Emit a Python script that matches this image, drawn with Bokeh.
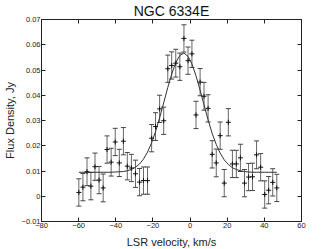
from bokeh.plotting import figure
from bokeh.models import (ColumnDataSource, Whisker, TeeHead, LinearAxis, FixedTicker,
                          Range1d)
from bokeh.embed import file_html
from bokeh.resources import INLINE

# ---- data ----
velocity = [-59.9, -57.7, -55.5, -53.4, -51.2, -49.0, -46.8, -44.7, -42.5, -40.3,
            -38.1, -35.9, -33.8, -31.6, -29.4, -27.2, -25.1, -22.9, -20.7, -18.6,
            -16.4, -14.2, -12.0, -9.9, -7.7, -5.5, -3.3, -1.1, 1.0, 3.2,
            5.4, 7.5, 9.7, 11.9, 14.1, 16.2, 18.4, 20.6, 22.8, 24.9,
            27.1, 29.3, 31.5, 33.6, 35.8, 38.0, 40.2, 42.3, 44.5, 46.7]
flux = [0.0015, 0.0036, 0.0097, 0.0040, 0.0117, 0.0064, 0.0033, 0.0185, 0.0135, 0.0215,
        0.0132, 0.0218, 0.0119, 0.0112, 0.0089, 0.0056, 0.0062, 0.0062, 0.0230, 0.0276,
        0.0346, 0.0299, 0.0505, 0.0518, 0.0527, 0.0513, 0.0625, 0.0537, 0.0564, 0.0322,
        0.0452, 0.0396, 0.0348, 0.0166, 0.0132, 0.0240, 0.0052, 0.0293, 0.0128, 0.0128,
        0.0152, 0.0052, 0.0076, 0.0077, 0.0164, 0.0115, 0.0007, 0.0024, 0.0055, 0.0033]
flux_err = [0.0054, 0.0054, 0.0055, 0.0054, 0.0054, 0.0054, 0.0055, 0.0054, 0.0055, 0.0054,
            0.0054, 0.0054, 0.0054, 0.0054, 0.0054, 0.0054, 0.0054, 0.0054, 0.0054, 0.0055,
            0.0054, 0.0054, 0.0054, 0.0054, 0.0055, 0.0054, 0.0054, 0.0054, 0.0054, 0.0054,
            0.0054, 0.0055, 0.0054, 0.0054, 0.0055, 0.0054, 0.0054, 0.0054, 0.0054, 0.0054,
            0.0054, 0.0054, 0.0054, 0.0054, 0.0055, 0.0054, 0.0054, 0.0054, 0.0054, 0.0054]
fit_flux = [0.0095, 0.0095, 0.0095, 0.0095, 0.0095, 0.0095, 0.0095, 0.0095, 0.0095, 0.0096,
            0.0097, 0.0098, 0.0101, 0.0106, 0.0115, 0.0128, 0.0147, 0.0175, 0.0212, 0.0256,
            0.0311, 0.0370, 0.0431, 0.0484, 0.0529, 0.0558, 0.0567, 0.0554, 0.0524, 0.0477,
            0.0420, 0.0362, 0.0303, 0.0249, 0.0205, 0.0171, 0.0144, 0.0126, 0.0113, 0.0106,
            0.0101, 0.0098, 0.0096, 0.0095, 0.0095, 0.0095, 0.0095, 0.0095, 0.0095, 0.0095]

xticks = [-80, -60, -40, -20, 0, 20, 40, 60]
yticks = [-0.01, 0, 0.01, 0.02, 0.03, 0.04, 0.05, 0.06, 0.07]
ytick_labels = ["\u22120.01", "0", "0.01", "0.02", "0.03", "0.04", "0.05", "0.06", "0.07"]
xtick_labels = ["\u221280", "\u221260", "\u221240", "\u221220", "0", "20", "40", "60"]
title_text = "NGC 6334E"

FONT = "Liberation Sans"

src = ColumnDataSource(dict(
    v=velocity, f=flux,
    lo=[a - b for a, b in zip(flux, flux_err)],
    hi=[a + b for a, b in zip(flux, flux_err)],
    fit=fit_flux,
))

p = figure(frame_width=260, frame_height=202, output_backend="svg", toolbar_location=None,
           x_range=Range1d(-80, 60), y_range=Range1d(-0.01, 0.07),
           min_border_left=0, min_border_right=22, min_border_top=0, min_border_bottom=0)
p.background_fill_color = "white"
p.border_fill_color = "white"
p.xgrid.visible = False
p.ygrid.visible = False
p.outline_line_color = "#222222"
p.outline_line_width = 1

p.title.text = title_text
p.title.align = "center"
p.title.text_font = FONT
p.title.text_font_size = "14px"
p.title.text_font_style = "normal"
p.title.text_color = "#111111"
p.title.standoff = 1

def style_axis(ax, ticks, labels, show_labels=True):
    ax.ticker = FixedTicker(ticks=ticks)
    ax.major_label_overrides = {t: l for t, l in zip(ticks, labels)}
    ax.major_tick_in = 4
    ax.major_tick_out = 0
    ax.minor_tick_line_color = None
    ax.axis_line_color = "#222222"
    ax.major_tick_line_color = "#222222"
    ax.major_label_text_font = FONT
    ax.major_label_text_font_size = "7.5px"
    ax.major_label_text_color = "#222222" if show_labels else None
    ax.major_label_standoff = 1
    ax.axis_label_text_font = FONT
    ax.axis_label_text_font_size = "11px"
    ax.axis_label_text_font_style = "normal"
    ax.axis_label_text_color = "#222222"

style_axis(p.xaxis[0], xticks, xtick_labels)
style_axis(p.yaxis[0], yticks, ytick_labels)
p.xaxis[0].axis_label = "LSR velocity, km/s"
p.yaxis[0].axis_label = "Flux Density, Jy"
p.xaxis[0].axis_label_standoff = 5
p.yaxis[0].axis_label_standoff = 3

top = LinearAxis()
right = LinearAxis()
style_axis(top, xticks, xtick_labels, show_labels=False)
style_axis(right, yticks, ytick_labels, show_labels=False)
top.major_label_text_font_size = "0px"
right.major_label_text_font_size = "0px"
top.major_label_standoff = 0
right.major_label_standoff = 0
p.add_layout(top, "above")
p.add_layout(right, "right")

# fit curve
p.line("v", "fit", source=src, line_color="#333333", line_width=1)

# error bars
wh = Whisker(base="v", lower="lo", upper="hi", source=src,
             line_color="#666666", line_width=1,
             upper_head=TeeHead(size=5, line_color="#444444", line_width=1),
             lower_head=TeeHead(size=5, line_color="#444444", line_width=1))
p.add_layout(wh)

# data points
p.scatter("v", "f", source=src, marker="cross", size=5, line_color="#111111", line_width=1)

open("out.html", "w").write(file_html(p, INLINE))
